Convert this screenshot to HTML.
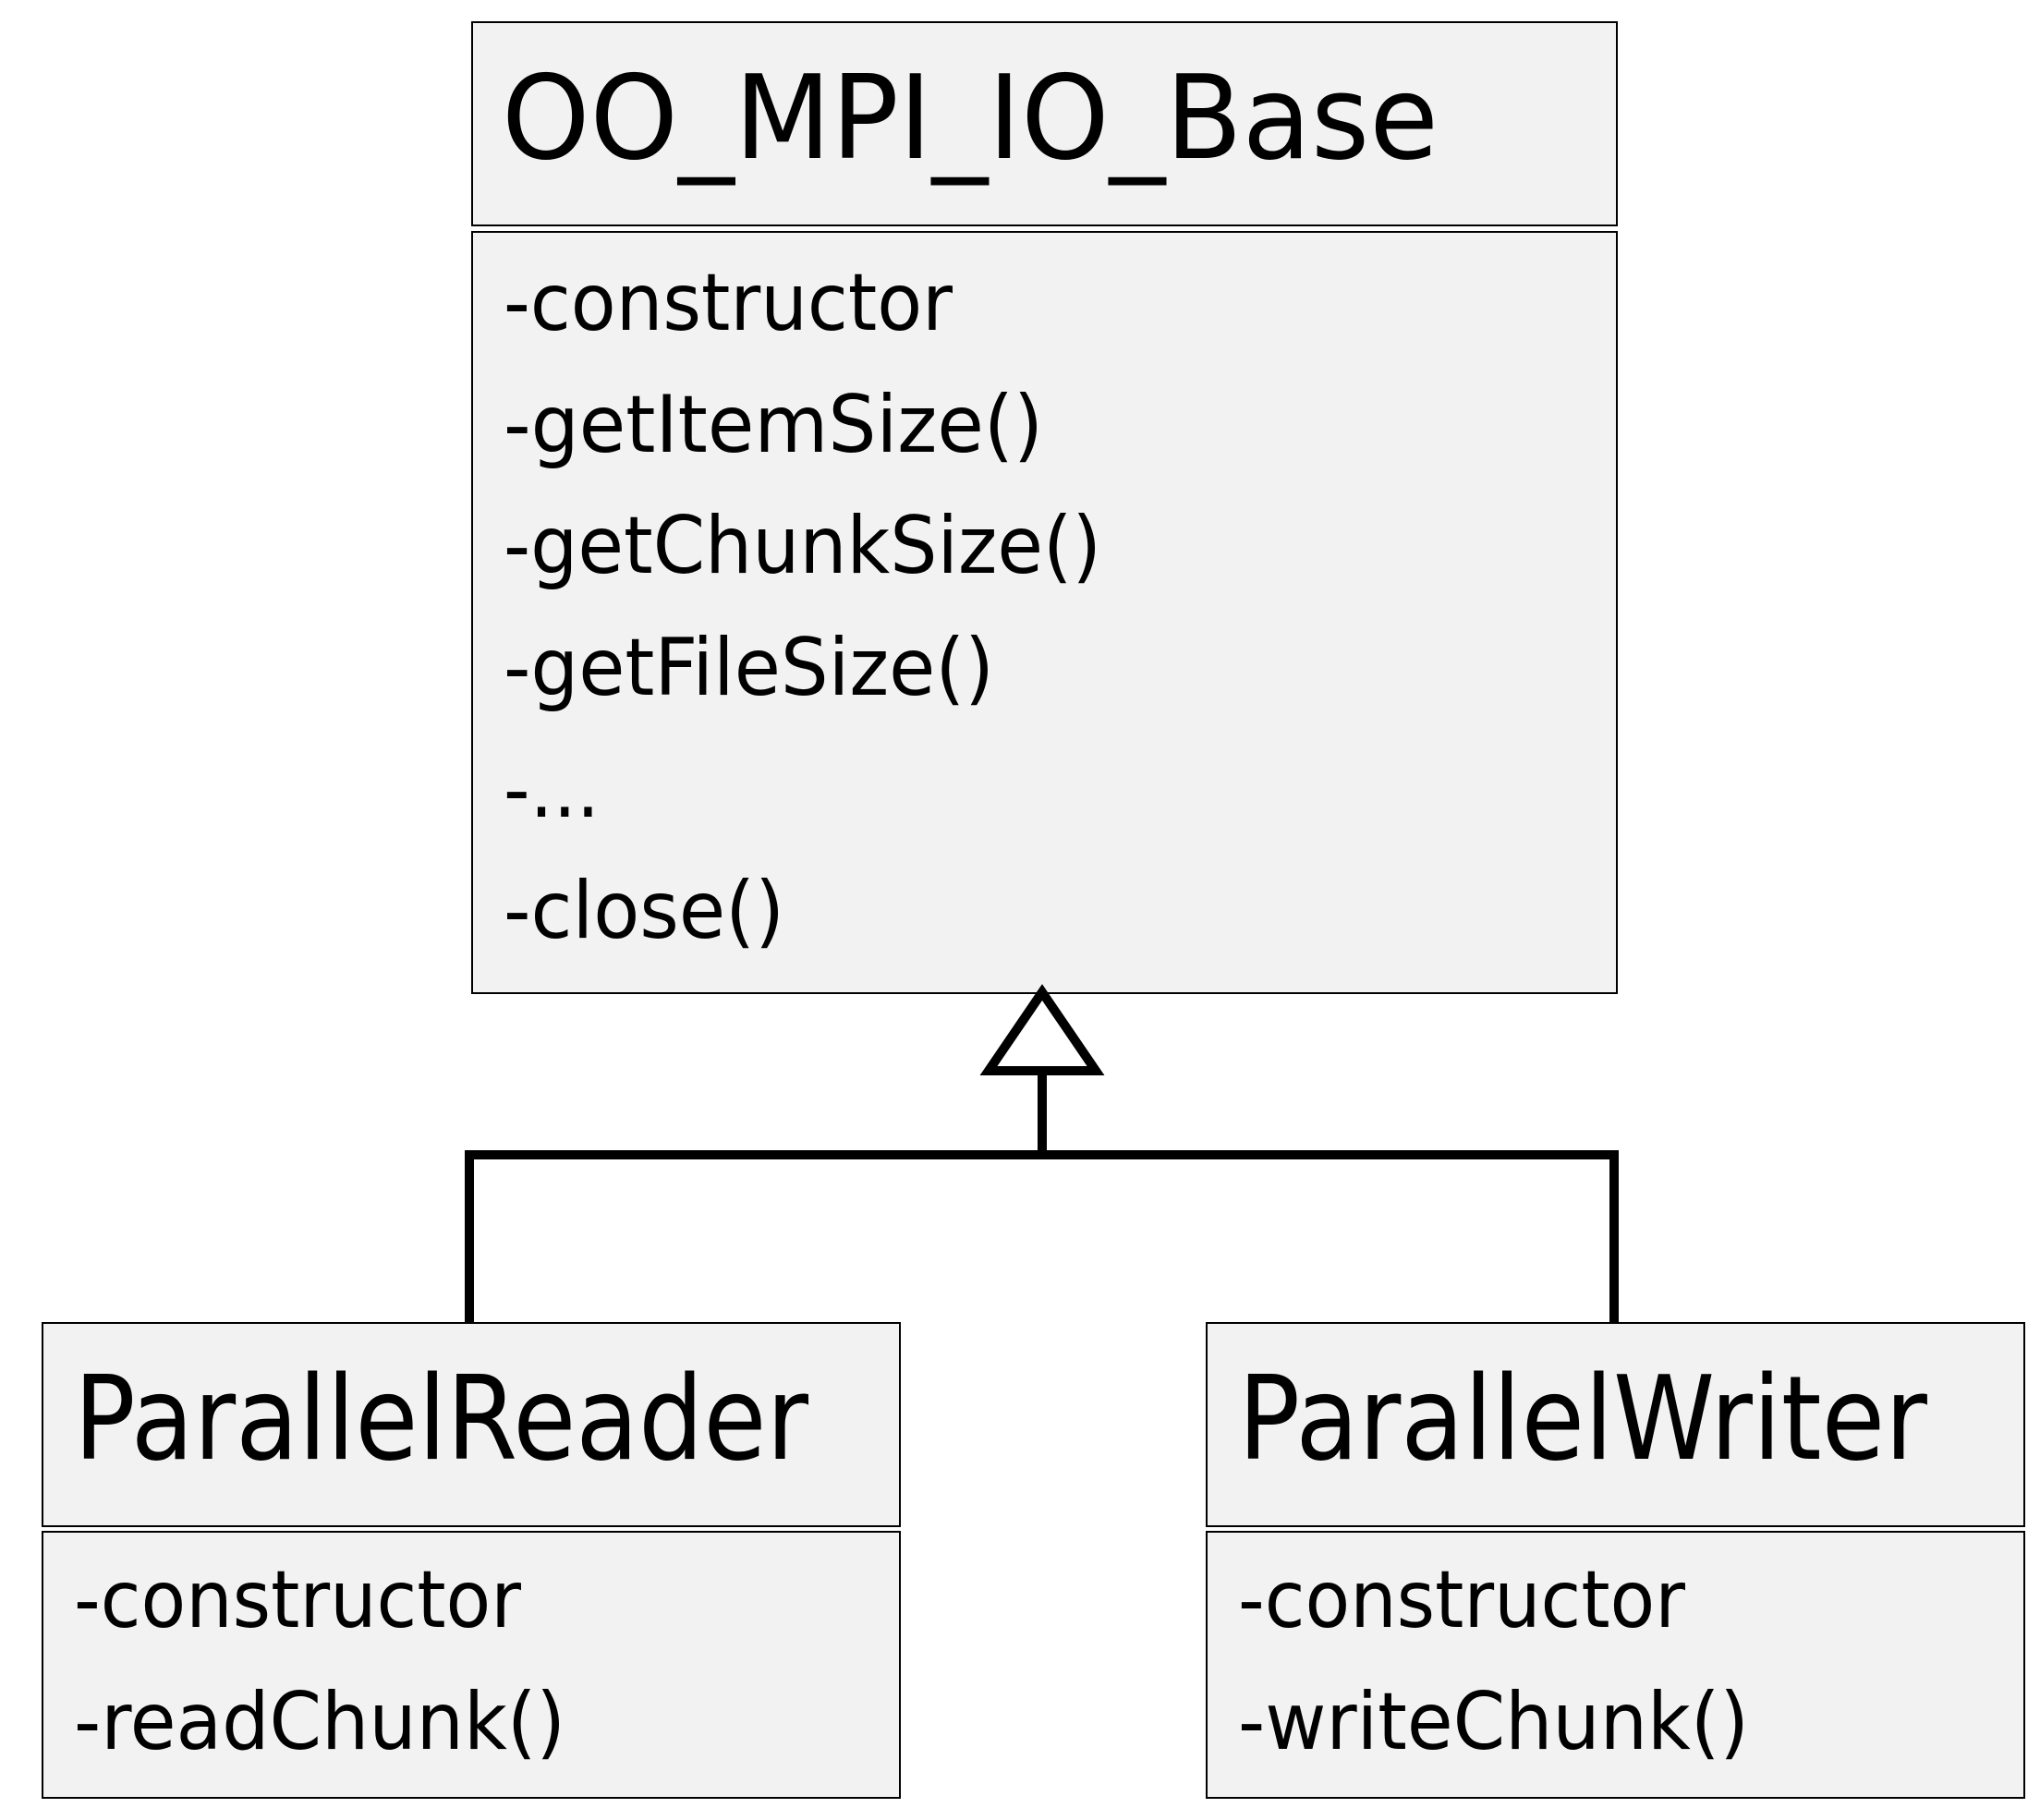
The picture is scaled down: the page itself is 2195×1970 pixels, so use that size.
<!DOCTYPE html>
<html><head><meta charset="utf-8"><style>
html,body{margin:0;padding:0;background:#fff;}
svg{display:block;}
text{font-family:"DejaVu Sans","Liberation Sans",sans-serif;fill:#000;}
</style></head><body>
<svg width="2195" height="1970" viewBox="0 0 2195 1970" xmlns="http://www.w3.org/2000/svg">
<g fill="#f2f2f2" stroke="#000" stroke-width="2">
<rect x="511" y="24" width="1239" height="220"/>
<rect x="511" y="251" width="1239" height="824"/>
<rect x="46" y="1432" width="928" height="220"/>
<rect x="46" y="1658" width="928" height="288"/>
<rect x="1306" y="1432" width="885" height="220"/>
<rect x="1306" y="1658" width="885" height="288"/>
</g>
<g fill="none" stroke="#000" stroke-width="10">
<polyline points="508,1431 508,1250 1747,1250 1747,1431"/>
<line x1="1128" y1="1250" x2="1128" y2="1159"/>
<polygon points="1128,1074 1070,1159 1186,1159" fill="#fff"/>
</g>
<text x="543" y="171" font-size="126" textLength="1014" lengthAdjust="spacingAndGlyphs">OO_MPI_IO_Base</text>
<g font-size="86">
<text x="545" y="357" textLength="486" lengthAdjust="spacingAndGlyphs">-constructor</text>
<text x="545" y="489" textLength="584" lengthAdjust="spacingAndGlyphs">-getItemSize()</text>
<text x="545" y="620" textLength="647" lengthAdjust="spacingAndGlyphs">-getChunkSize()</text>
<text x="545" y="752" textLength="531" lengthAdjust="spacingAndGlyphs">-getFileSize()</text>
<text x="545" y="884" textLength="104" lengthAdjust="spacingAndGlyphs">-...</text>
<text x="545" y="1015" textLength="304" lengthAdjust="spacingAndGlyphs">-close()</text>
<text x="80" y="1761" textLength="484" lengthAdjust="spacingAndGlyphs">-constructor</text>
<text x="80" y="1893" textLength="532" lengthAdjust="spacingAndGlyphs">-readChunk()</text>
<text x="1340" y="1761" textLength="484" lengthAdjust="spacingAndGlyphs">-constructor</text>
<text x="1340" y="1893" textLength="553" lengthAdjust="spacingAndGlyphs">-writeChunk()</text>
</g>
<text x="80" y="1579" font-size="126" textLength="795" lengthAdjust="spacingAndGlyphs">ParallelReader</text>
<text x="1340" y="1579" font-size="126" textLength="746" lengthAdjust="spacingAndGlyphs">ParallelWriter</text>
</svg>
</body></html>
